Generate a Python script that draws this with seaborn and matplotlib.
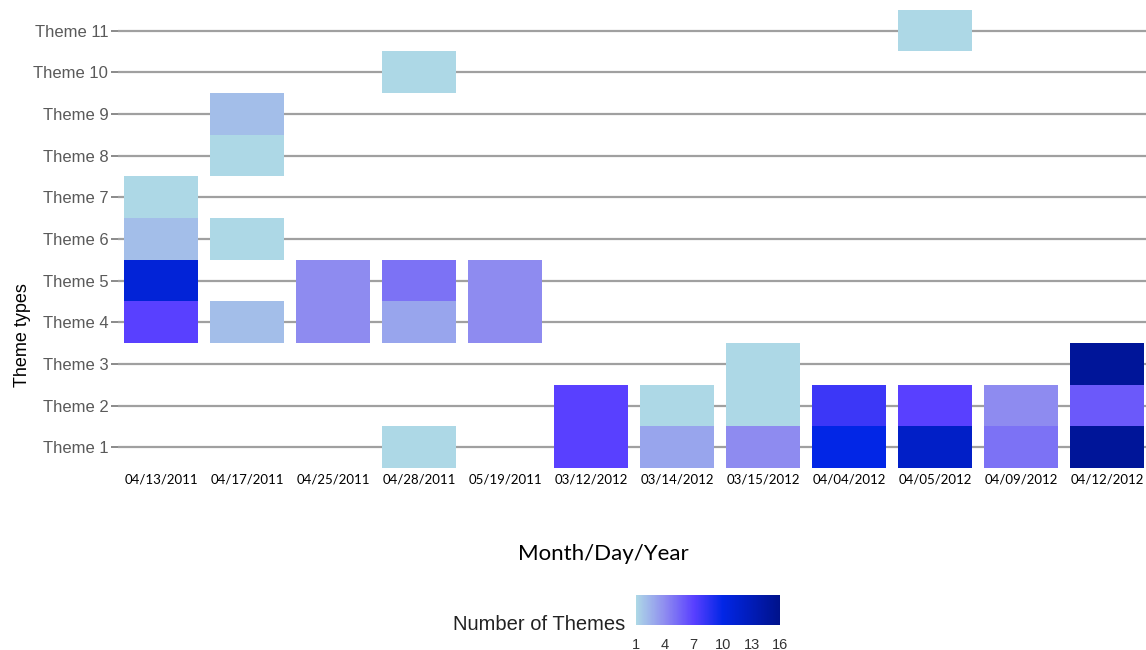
import matplotlib
matplotlib.use("Agg")
from matplotlib import pyplot as plt
from matplotlib.colors import Normalize
from matplotlib.cm import ScalarMappable
import pandas as pd
import seaborn as sns


# Dates (categories on x) and theme names (y)
dates = ['04/13/2011', '04/17/2011', '04/25/2011', '04/28/2011', '05/19/2011',
         '03/12/2012', '03/14/2012', '03/15/2012', '04/04/2012', '04/05/2012',
         '04/09/2012', '04/12/2012']
themes = ['Theme %d' % i for i in range(1, 12)]

# One record per coloured tile: date, theme number, number of themes
rec_date = ['04/13/2011', '04/13/2011', '04/13/2011', '04/13/2011',
            '04/17/2011', '04/17/2011', '04/17/2011', '04/17/2011',
            '04/25/2011', '04/25/2011',
            '04/28/2011', '04/28/2011', '04/28/2011', '04/28/2011',
            '05/19/2011', '05/19/2011',
            '03/12/2012', '03/12/2012',
            '03/14/2012', '03/14/2012',
            '03/15/2012', '03/15/2012', '03/15/2012',
            '04/04/2012', '04/04/2012',
            '04/05/2012', '04/05/2012', '04/05/2012',
            '04/09/2012', '04/09/2012',
            '04/12/2012', '04/12/2012', '04/12/2012']
rec_theme = [4, 5, 6, 7,
             4, 6, 8, 9,
             4, 5,
             1, 4, 5, 10,
             4, 5,
             1, 2,
             1, 2,
             1, 2, 3,
             1, 2,
             1, 2, 11,
             1, 2,
             1, 2, 3]
rec_count = [7, 11, 2, 1,
             2, 1, 1, 2,
             4, 4,
             1, 3, 5, 1,
             4, 4,
             7, 7,
             3, 1,
             4, 1, 1,
             10, 8,
             12, 7, 1,
             5, 4,
             15, 6, 15]

tiles = pd.DataFrame({'date': rec_date, 'theme': rec_theme, 'count': rec_count})
tiles['xpos'] = [dates.index(d) for d in tiles.date]

sns.set_theme(style="white")

# Light blue -> purple-blue -> blue -> navy
cmap = sns.blend_palette(['#ADD8E6', '#8E8BF0', '#5940FF', '#0226E6',
                          '#011CB8', '#00128A'], as_cmap=True)
norm = Normalize(vmin=1, vmax=16)

fig = plt.figure(figsize=(11.46, 6.5), dpi=100)
ax = fig.add_axes([0.103, 0.28, 0.897, 0.705])

ax.bar(tiles.xpos, 1.0, bottom=tiles.theme - 0.5, width=0.86,
       color=[cmap(norm(v)) for v in tiles['count']], linewidth=0,
       edgecolor='none', zorder=3)

# horizontal theme lines behind the tiles
for y in range(1, len(themes) + 1):
    ax.axhline(y, color='#A0A0A0', lw=1.6, zorder=1)

ax.set_xlim(-0.5, len(dates) - 0.55)
ax.set_ylim(0.5, len(themes) + 0.5)
ax.set_xticks(range(len(dates)))
ax.set_xticklabels(dates, fontsize=9.5, family='Lato', color='black')
ax.set_yticks(range(1, len(themes) + 1))
ax.set_yticklabels(themes, fontsize=12, family='Liberation Sans',
                   color='#5A5A5A')
ax.tick_params(axis='x', length=0, pad=4)
ax.tick_params(axis='y', length=5, width=1.2, color='#777777', pad=2, left=True)
for s in ax.spines.values():
    s.set_visible(False)

ax.set_ylabel('Theme types', fontsize=13, family='Liberation Sans',
              color='black')
ax.yaxis.set_label_coords(-0.085, 0.29)
ax.set_xlabel('Month/Day/Year', fontsize=16, family='Lato', color='black')
ax.xaxis.set_label_coords(0.472, -0.165)

# Colour bar legend
cax = fig.add_axes([0.555, 0.038, 0.126, 0.047])
cb = fig.colorbar(ScalarMappable(norm=norm, cmap=cmap), cax=cax,
                  orientation='horizontal', ticks=[1, 4, 7, 10, 13, 16])
cb.outline.set_visible(False)
cax.tick_params(axis='x', direction='in', color='white', length=3,
                width=1, labelsize=10.5, labelcolor='#333333', pad=9,
                top=True, bottom=True)
for lab in cax.get_xticklabels():
    lab.set_family('Liberation Sans')
fig.text(0.546, 0.031, 'Number of Themes', ha='right', va='baseline',
         fontsize=14.5, family='Liberation Sans', color='#222222')

plt.savefig('out.png', dpi=100)
